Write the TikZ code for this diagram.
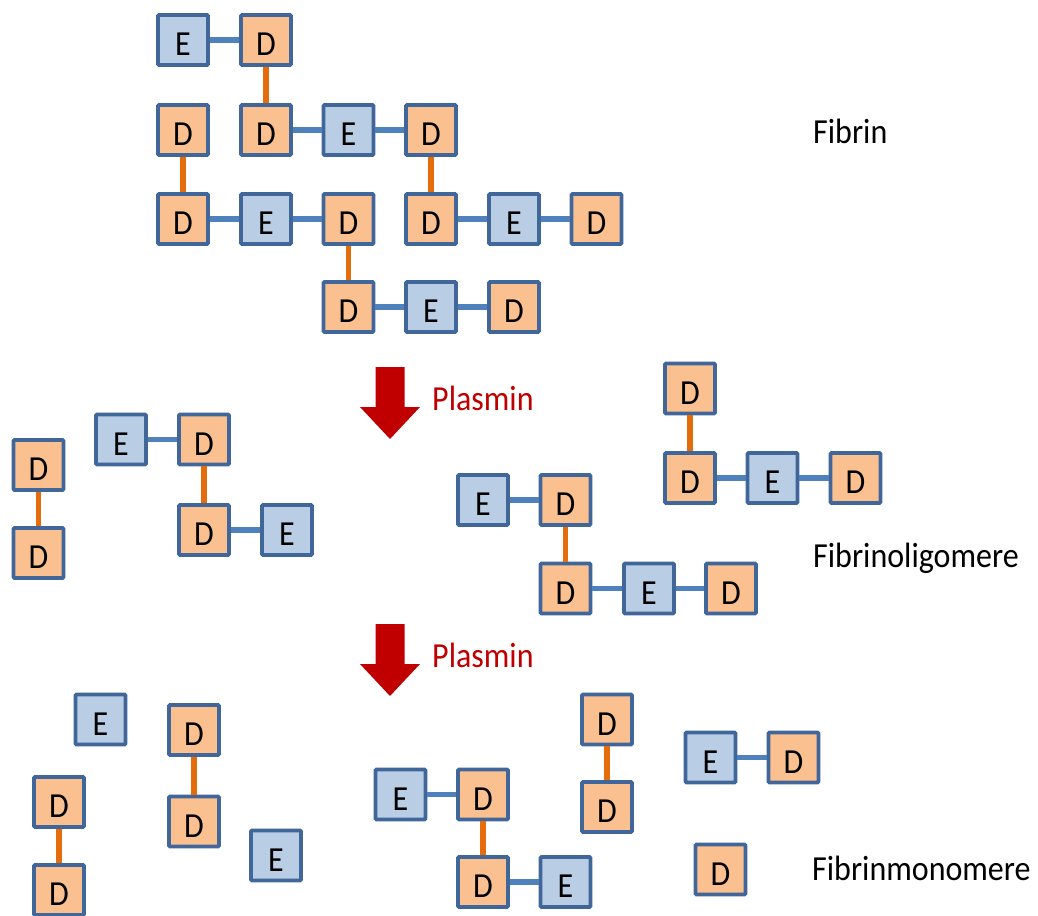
\documentclass[tikz,border=0pt]{standalone}
\usepackage{fontspec}
\setmainfont{Carlito}
\definecolor{dfill}{HTML}{FAC090}
\definecolor{efill}{HTML}{B9CDE5}
\definecolor{boxline}{HTML}{41669A}
\definecolor{blink}{HTML}{4F81BD}
\definecolor{olink}{HTML}{E46C0A}
\definecolor{plasred}{HTML}{C00000}
\newcommand{\talltxt}[1]{\scalebox{1}[1.1]{#1}}
\tikzset{
  unit/.style={draw=boxline, line width=3.8pt, minimum size=50pt, inner sep=0pt,
    rounded corners=1pt, font=\fontsize{32}{36}\selectfont, text height=31pt, text depth=0pt},
  dbox/.style={unit, fill=dfill},
  ebox/.style={unit, fill=efill},
  bl/.style={draw=blink, line width=5.5pt},
  ol/.style={draw=olink, line width=5.5pt},
  lbl/.style={anchor=base west, inner sep=0pt, font=\fontsize{32}{36}\selectfont},
  plas/.style={lbl, text=plasred},
  redarrow/.style={fill=plasred}
}
\begin{document}
\begin{tikzpicture}[x=1pt,y=-1pt]
\useasboundingbox (0,0) rectangle (1038,915);
% ---------- Fibrin ----------
\node[ebox] (t1) at (183,40) {\talltxt{E}};
\node[dbox] (t2) at (266,40) {\talltxt{D}};
\node[dbox] (t3) at (183,130) {\talltxt{D}};
\node[dbox] (t4) at (266,130) {\talltxt{D}};
\node[ebox] (t5) at (348.5,130) {\talltxt{E}};
\node[dbox] (t6) at (431,130) {\talltxt{D}};
\node[dbox] (t7) at (183,219) {\talltxt{D}};
\node[ebox] (t8) at (266,219) {\talltxt{E}};
\node[dbox] (t9) at (348.5,219) {\talltxt{D}};
\node[dbox] (t10) at (431,219) {\talltxt{D}};
\node[ebox] (t11) at (514,219) {\talltxt{E}};
\node[dbox] (t12) at (596.5,219) {\talltxt{D}};
\node[dbox] (t13) at (348.5,307) {\talltxt{D}};
\node[ebox] (t14) at (431,307) {\talltxt{E}};
\node[dbox] (t15) at (514,307) {\talltxt{D}};
\foreach \a/\b in {t1/t2,t4/t5,t5/t6,t7/t8,t8/t9,t10/t11,t11/t12,t13/t14,t14/t15}
  \draw[bl] (\a) -- (\b);
\foreach \a/\b in {t2/t4,t3/t7,t6/t10,t9/t13}
  \draw[ol] (\a) -- (\b);
\node[lbl] (lfibrin) at (813,143) {\talltxt{Fibrin}};
% ---------- Plasmin 1 ----------
\fill[redarrow] (375.5,367) -- (404.5,367) -- (404.5,407) -- (420,407) -- (390,439) -- (360,407) -- (375.5,407) -- cycle;
\node[plas] (p1) at (432,410) {\talltxt{Plasmin}};
% ---------- Fibrinoligomere ----------
\node[dbox] (m1) at (38.5,465) {\talltxt{D}};
\node[dbox] (m2) at (38.5,553) {\talltxt{D}};
\node[ebox] (m3) at (121,439.5) {\talltxt{E}};
\node[dbox] (m4) at (204,439.5) {\talltxt{D}};
\node[dbox] (m5) at (204,530) {\talltxt{D}};
\node[ebox] (m6) at (287,530) {\talltxt{E}};
\node[ebox] (m7) at (483,500) {\talltxt{E}};
\node[dbox] (m8) at (565.5,500) {\talltxt{D}};
\node[dbox] (m9) at (565.5,588.5) {\talltxt{D}};
\node[ebox] (m10) at (649,588.5) {\talltxt{E}};
\node[dbox] (m11) at (731,588.5) {\talltxt{D}};
\node[dbox] (m12) at (690,388.5) {\talltxt{D}};
\node[dbox] (m13) at (690,478) {\talltxt{D}};
\node[ebox] (m14) at (772.5,478) {\talltxt{E}};
\node[dbox] (m15) at (855.5,478) {\talltxt{D}};
\foreach \a/\b in {m3/m4,m5/m6,m7/m8,m9/m10,m10/m11,m13/m14,m14/m15}
  \draw[bl] (\a) -- (\b);
\foreach \a/\b in {m1/m2,m4/m5,m8/m9,m12/m13}
  \draw[ol] (\a) -- (\b);
\node[lbl] (lolig) at (813,567) {\talltxt{Fibrinoligomere}};
% ---------- Plasmin 2 ----------
\fill[redarrow] (375.5,624) -- (404.5,624) -- (404.5,664) -- (420,664) -- (390,696) -- (360,664) -- (375.5,664) -- cycle;
\node[plas] (p2) at (432,667) {\talltxt{Plasmin}};
% ---------- Fibrinmonomere ----------
\node[ebox] (b1) at (100.5,719.5) {\talltxt{E}};
\node[dbox] (b2) at (194,730) {\talltxt{D}};
\node[dbox] (b3) at (194,821.5) {\talltxt{D}};
\node[dbox] (b4) at (59,802) {\talltxt{D}};
\node[dbox] (b5) at (59,890) {\talltxt{D}};
\node[ebox] (b6) at (276,855.5) {\talltxt{E}};
\node[ebox] (b7) at (400.5,794.5) {\talltxt{E}};
\node[dbox] (b8) at (483,794.5) {\talltxt{D}};
\node[dbox] (b9) at (483,882) {\talltxt{D}};
\node[ebox] (b10) at (565.5,882) {\talltxt{E}};
\node[dbox] (b11) at (607,719.5) {\talltxt{D}};
\node[dbox] (b12) at (607,807) {\talltxt{D}};
\node[ebox] (b13) at (710.5,757.5) {\talltxt{E}};
\node[dbox] (b14) at (793.5,757.5) {\talltxt{D}};
\node[dbox] (b15) at (720.5,869.5) {\talltxt{D}};
\foreach \a/\b in {b7/b8,b9/b10,b13/b14}
  \draw[bl] (\a) -- (\b);
\foreach \a/\b in {b2/b3,b4/b5,b8/b9,b11/b12}
  \draw[ol] (\a) -- (\b);
\node[lbl] (lmono) at (812,880) {\talltxt{Fibrinmonomere}};
\end{tikzpicture}
\end{document}
